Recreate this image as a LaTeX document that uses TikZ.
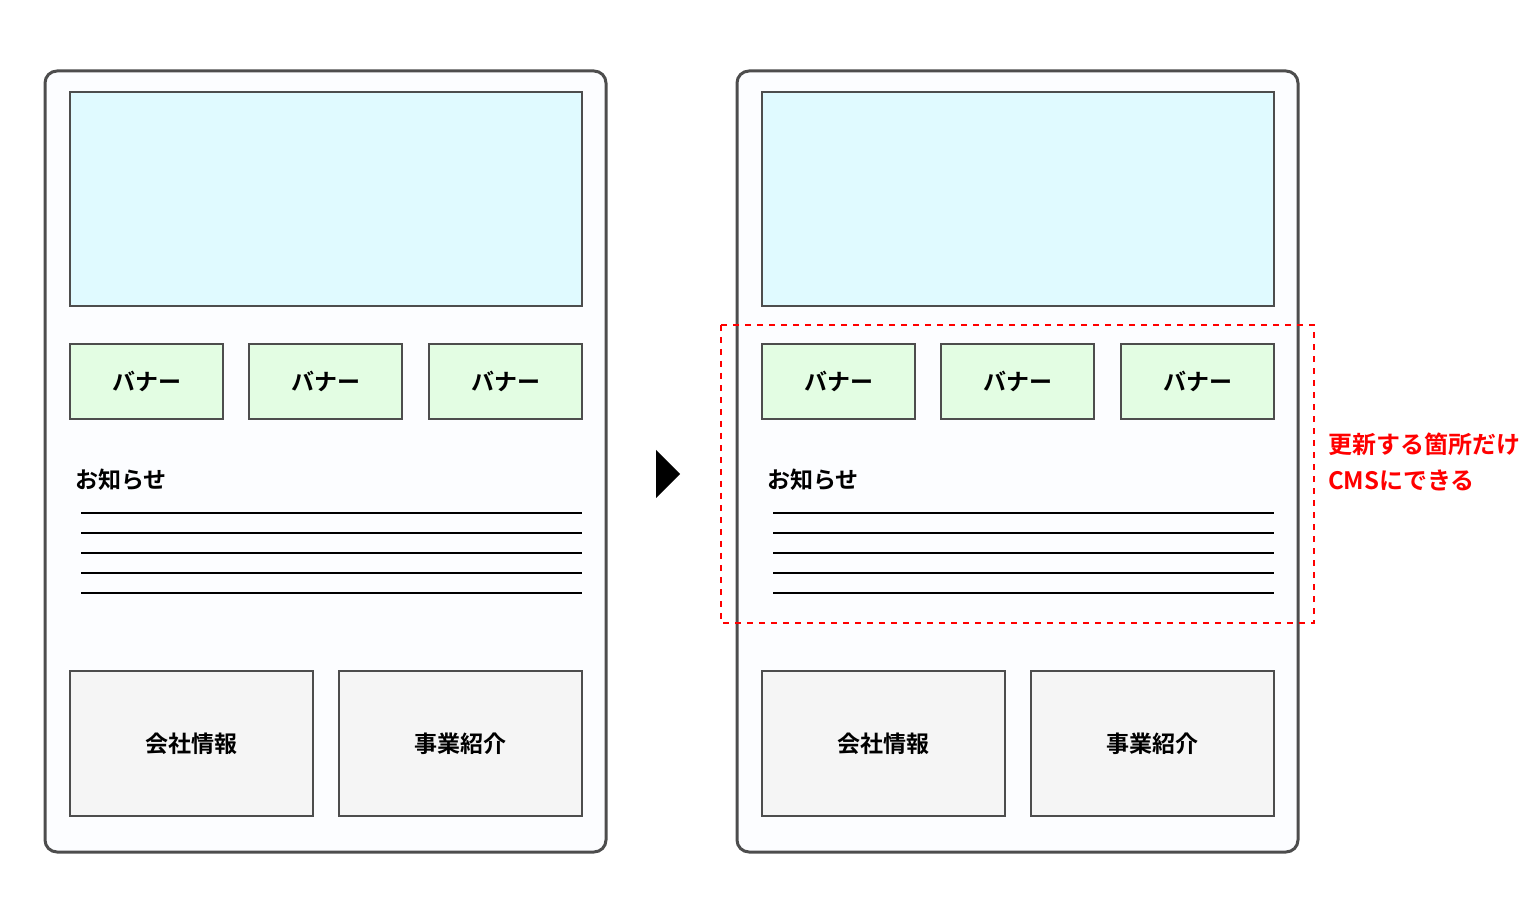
\documentclass[tikz,border=0pt]{standalone}
\usepackage{fontspec}
\setmainfont{Noto Sans CJK JP}[BoldFont={Noto Sans CJK JP Bold}]
\definecolor{framegray}{HTML}{4D4D4D}
\definecolor{pagebg}{HTML}{FCFDFF}
\definecolor{herocyan}{HTML}{E0FAFF}
\definecolor{bannergreen}{HTML}{E3FDE3}
\definecolor{boxgray}{HTML}{F5F5F5}
\definecolor{cmsred}{HTML}{FF0000}
\tikzset{
  page/.style={draw=framegray, line width=1.5pt, rounded corners=6pt, fill=pagebg},
  hero/.style={draw=framegray, line width=0.6pt, fill=herocyan},
  banner/.style={draw=framegray, line width=0.6pt, fill=bannergreen, font=\bfseries\fontsize{11.5}{13}\selectfont},
  infobox/.style={draw=framegray, line width=0.6pt, fill=boxgray, font=\bfseries\fontsize{11.5}{13}\selectfont},
  newsline/.style={line width=0.6pt, black}
}
\begin{document}
\begin{tikzpicture}[x=0.5pt, y=-0.5pt]
\useasboundingbox (0,0) rectangle (1536,924);
% Pages
\foreach \dx/\p in {0/L, 692/R} {
  \begin{scope}[xshift=\dx*0.5pt]
    \draw[page] (45,71) rectangle (606,852);
    \draw[hero] (70,92) rectangle (582,306);
    \node[banner, minimum width=76.5pt, minimum height=37.5pt] (ban1\p) at (146.5,381.5) {バナー};
    \node[banner, minimum width=76.5pt, minimum height=37.5pt] (ban2\p) at (325.5,381.5) {バナー};
    \node[banner, minimum width=76.5pt, minimum height=37.5pt] (ban3\p) at (505.5,381.5) {バナー};
    \node[anchor=west, font=\bfseries\fontsize{11.5}{13}\selectfont] (news\p) at (68,480) {お知らせ};
    \foreach \y in {513,533,553,573,593}
      \draw[newsline] (81,\y) -- (582,\y);
    \node[infobox, minimum width=121.5pt, minimum height=72.5pt] (company\p) at (191.5,743.5) {会社情報};
    \node[infobox, minimum width=121.5pt, minimum height=72.5pt] (business\p) at (460.5,743.5) {事業紹介};
  \end{scope}
}
% Arrow
\fill[black] (656,450) -- (680,474) -- (656,498) -- cycle;
% CMS area
\draw[cmsred, dashed, line width=0.9pt] (721,325) rectangle (1314,623);
\node[anchor=west, text=cmsred, font=\bfseries\fontsize{12}{14}\selectfont] (cms1) at (1321,444) {更新する箇所だけ};
\node[anchor=west, text=cmsred, font=\bfseries\fontsize{12}{14}\selectfont] (cms2) at (1321,480) {CMSにできる};
\end{tikzpicture}
\end{document}
